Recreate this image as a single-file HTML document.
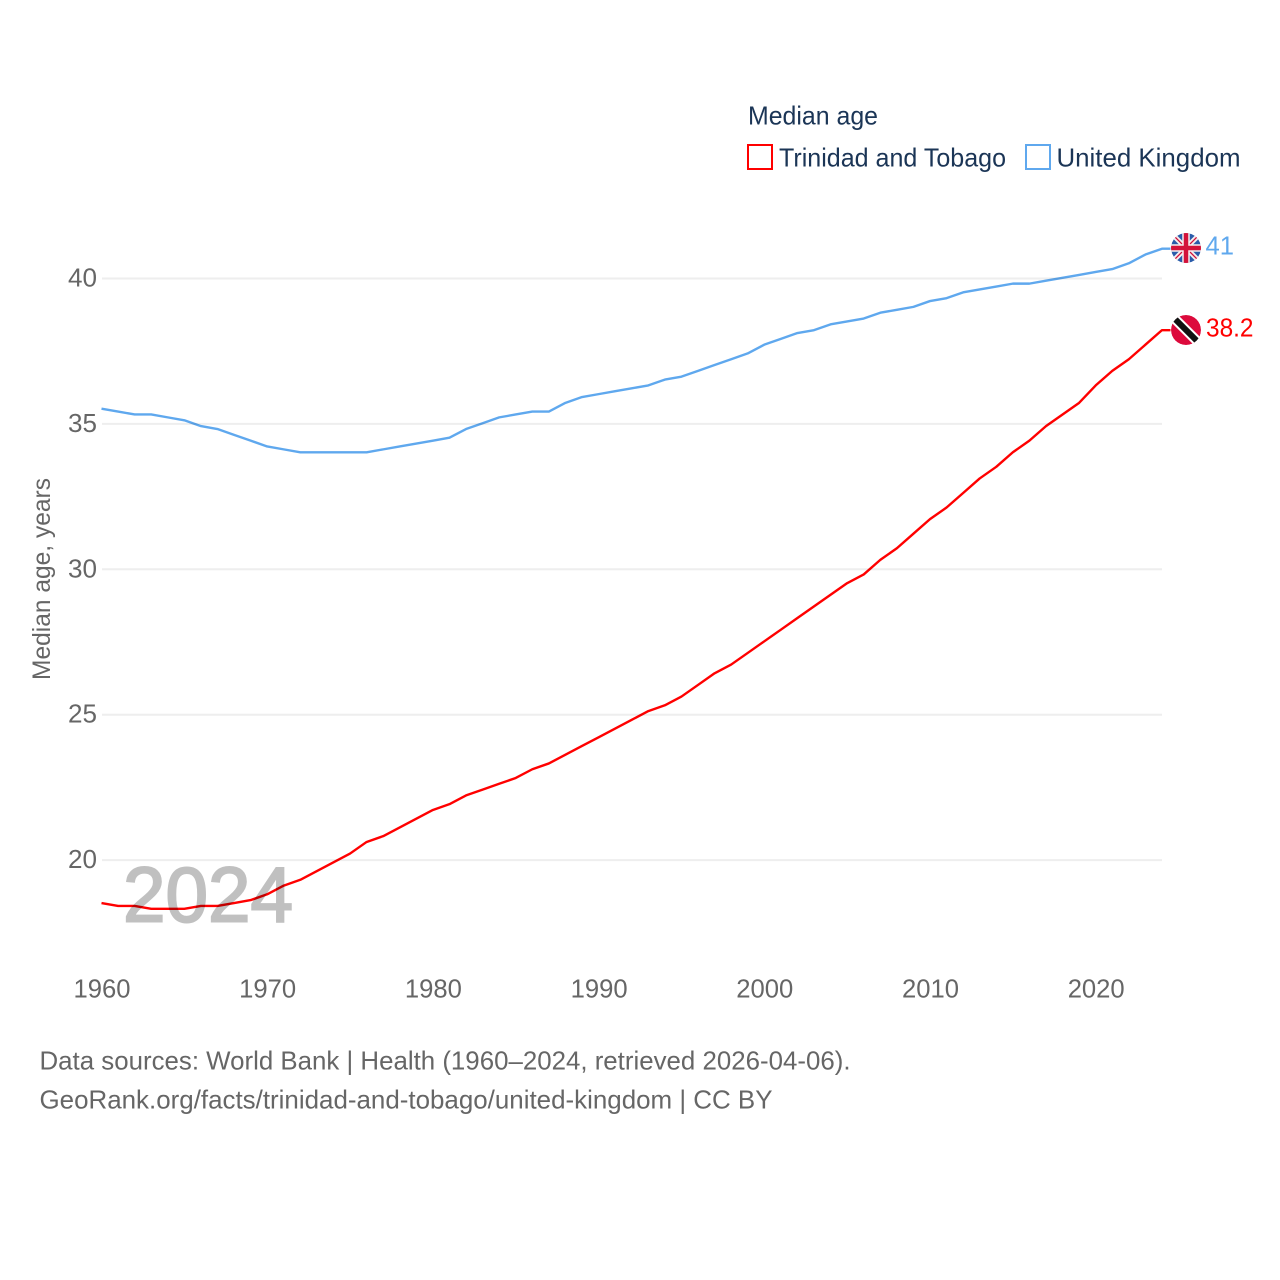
<!DOCTYPE html>
<html lang="en">
<head>
<meta charset="utf-8">
<title>Median age: Trinidad and Tobago vs United Kingdom</title>
<style>
html,body{margin:0;padding:0;background:#fff;width:1280px;height:1280px;overflow:hidden}
svg{display:block}
text{font-family:"Liberation Sans",sans-serif}
#series polyline{mix-blend-mode:multiply}
</style>
</head>
<body>
<svg id="chart" xmlns="http://www.w3.org/2000/svg" width="1280" height="1280" viewBox="0 0 1280 1280">
  <g id="grid"></g>
  <text x="123" y="921.5" font-size="78" fill="#c0c0c0" stroke="#c0c0c0" stroke-width="2" textLength="170" lengthAdjust="spacingAndGlyphs">2024</text>
  <g id="y-ticks"></g>
  <g id="x-ticks"></g>
  <text transform="translate(50,579) rotate(-90)" text-anchor="middle" font-size="25" fill="#666" textLength="202" lengthAdjust="spacingAndGlyphs">Median age, years</text>
  <g id="series" transform="translate(-0.5,-0.7)"></g>

  <text x="748" y="124.5" font-size="26" fill="#1b3556" textLength="130" lengthAdjust="spacingAndGlyphs">Median age</text>
  <rect x="748" y="145" width="24" height="24" fill="none" stroke="#ff0000" stroke-width="2"/>
  <text x="779" y="166.5" font-size="26" fill="#1b3556" textLength="227" lengthAdjust="spacingAndGlyphs">Trinidad and Tobago</text>
  <rect x="1026" y="145" width="24" height="24" fill="none" stroke="#5fa8ee" stroke-width="2"/>
  <text x="1056.5" y="166.5" font-size="26" fill="#1b3556" textLength="184" lengthAdjust="spacingAndGlyphs">United Kingdom</text>

  <defs>
    <clipPath id="uk-clip"><circle cx="1186" cy="248" r="15"/></clipPath>
    <clipPath id="tt-clip"><circle cx="1186" cy="330" r="15"/></clipPath>
  </defs>
  <g id="flag-uk" clip-path="url(#uk-clip)">
    <circle cx="1186" cy="248" r="15" fill="#2a5caa"/>
    <path d="M1171 233L1201 263M1201 233L1171 263" stroke="#f4eeee" stroke-width="5"/>
    <path d="M1171 233L1201 263M1201 233L1171 263" stroke="#d3123a" stroke-width="1.3"/>
    <path d="M1186 233V263M1171 248H1201" stroke="#f4eeee" stroke-width="7.5"/>
    <path d="M1186 233V263M1171 248H1201" stroke="#d3123a" stroke-width="4.5"/>
  </g>
  <g id="flag-tt" clip-path="url(#tt-clip)">
    <circle cx="1186" cy="330" r="15" fill="#dc0a3c"/>
    <path d="M1173 317L1199 343" stroke="#fff" stroke-width="10"/>
    <path d="M1173 317L1199 343" stroke="#111" stroke-width="6"/>
  </g>
  <text x="1205.5" y="254.5" font-size="25.5" fill="#5fa8ee" textLength="28.5" lengthAdjust="spacingAndGlyphs">41</text>
  <text x="1206" y="336.5" font-size="25.5" fill="#ff0000" textLength="47.5" lengthAdjust="spacingAndGlyphs">38.2</text>

  <text x="39.5" y="1069.5" font-size="26" fill="#666" textLength="811" lengthAdjust="spacingAndGlyphs">Data sources: World Bank | Health (1960–2024, retrieved 2026-04-06).</text>
  <text x="39.5" y="1108.5" font-size="26" fill="#666" textLength="733" lengthAdjust="spacingAndGlyphs">GeoRank.org/facts/trinidad-and-tobago/united-kingdom | CC BY</text>
</svg>
<script>
const startYear = 1960;
const xTickLabels = [1960, 1970, 1980, 1990, 2000, 2010, 2020];
const yTickLabels = [20, 25, 30, 35, 40];
const trinidadValues = [18.5,18.4,18.4,18.3,18.3,18.3,18.4,18.4,18.5,18.6,18.8,19.1,19.3,19.6,19.9,20.2,20.6,20.8,21.1,21.4,21.7,21.9,22.2,22.4,22.6,22.8,23.1,23.3,23.6,23.9,24.2,24.5,24.8,25.1,25.3,25.6,26.0,26.4,26.7,27.1,27.5,27.9,28.3,28.7,29.1,29.5,29.8,30.3,30.7,31.2,31.7,32.1,32.6,33.1,33.5,34.0,34.4,34.9,35.3,35.7,36.3,36.8,37.2,37.7,38.2];
const ukValues = [35.5,35.4,35.3,35.3,35.2,35.1,34.9,34.8,34.6,34.4,34.2,34.1,34.0,34.0,34.0,34.0,34.0,34.1,34.2,34.3,34.4,34.5,34.8,35.0,35.2,35.3,35.4,35.4,35.7,35.9,36.0,36.1,36.2,36.3,36.5,36.6,36.8,37.0,37.2,37.4,37.7,37.9,38.1,38.2,38.4,38.5,38.6,38.8,38.9,39.0,39.2,39.3,39.5,39.6,39.7,39.8,39.8,39.9,40.0,40.1,40.2,40.3,40.5,40.8,41.0];

const NS = 'http://www.w3.org/2000/svg';
function xScale(year) { return 102 + (year - 1960) * 16.57; }
function yScale(v) { return 278.5 + (40 - v) * 29.08; }
function make(tag, attrs, parent) {
  const el = document.createElementNS(NS, tag);
  for (const k in attrs) el.setAttribute(k, attrs[k]);
  parent.appendChild(el);
  return el;
}

const grid = document.getElementById('grid');
const yTicks = document.getElementById('y-ticks');
yTickLabels.forEach(function (v) {
  const line = make('line', { x1: 102, x2: 1162, y1: yScale(v), y2: yScale(v), stroke: '#eeeeee', 'stroke-width': 2 }, grid);
  
  
  const t = make('text', { x: 68, y: yScale(v) + 8, 'font-size': 25.5, fill: '#666', textLength: 29, lengthAdjust: 'spacingAndGlyphs' }, yTicks);
  t.textContent = String(v);
  
  
});

const xTicks = document.getElementById('x-ticks');
xTickLabels.forEach(function (yr) {
  const t = make('text', { x: xScale(yr) - 28.5, y: 997.5, 'font-size': 25.5, fill: '#666', textLength: 57, lengthAdjust: 'spacingAndGlyphs' }, xTicks);
  t.textContent = String(yr);
  
  
});

function drawSeries(values, color, name) {
  const pts = values.map(function (v, i) { return xScale(startYear + i).toFixed(2) + ',' + yScale(v).toFixed(2); });
  const lastY = yScale(values[values.length - 1]).toFixed(2);
  pts.push('1171,' + lastY);
  const line = make('polyline', { points: pts.join(' '), fill: 'none', stroke: color, 'stroke-width': 2.4, 'stroke-linejoin': 'round' }, document.getElementById('series'));
  
  
}
drawSeries(ukValues, '#5fa8ee', 'line-united-kingdom');
drawSeries(trinidadValues, '#ff0000', 'line-trinidad-and-tobago');
</script>
</body>
</html>
